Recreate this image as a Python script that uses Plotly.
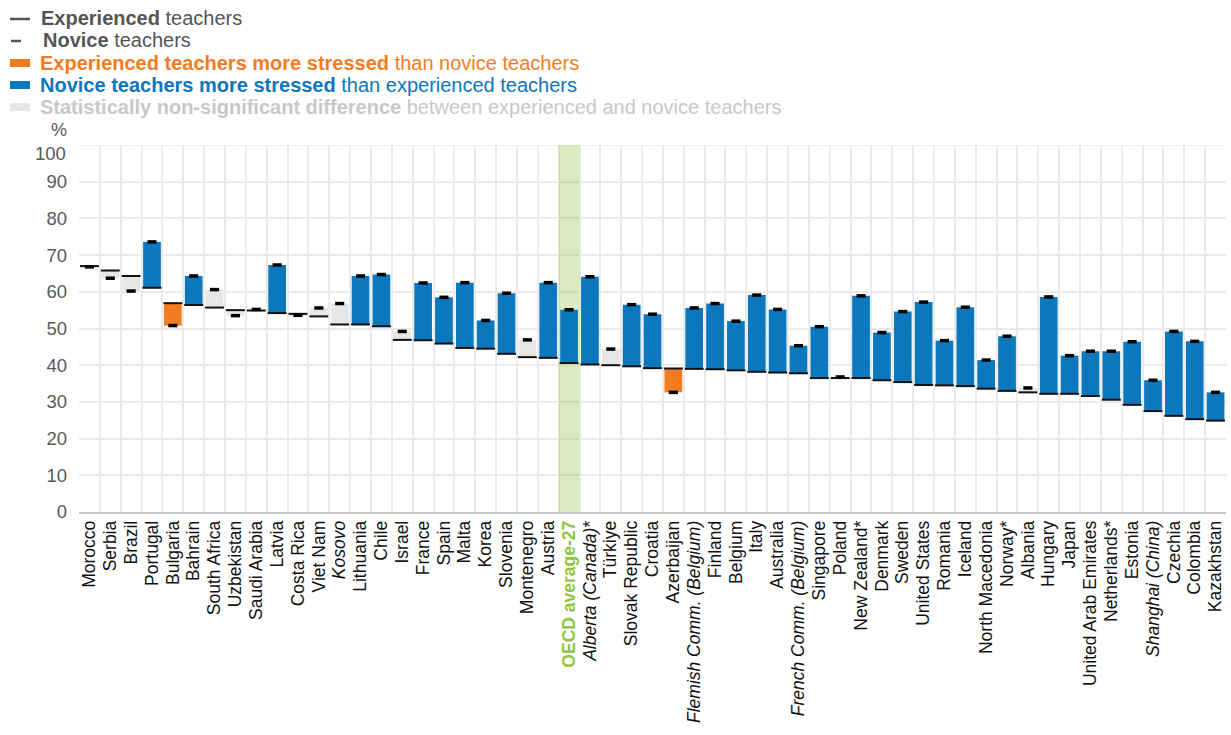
import plotly.graph_objects as go

categories = ["Morocco", "Serbia", "Brazil", "Portugal", "Bulgaria", "Bahrain", "South Africa",
              "Uzbekistan", "Saudi Arabia", "Latvia", "Costa Rica", "Viet Nam", "Kosovo",
              "Lithuania", "Chile", "Israel", "France", "Spain", "Malta", "Korea", "Slovenia",
              "Montenegro", "Austria", "OECD average-27", "Alberta (Canada)*", "Türkiye",
              "Slovak Republic", "Croatia", "Azerbaijan", "Flemish Comm. (Belgium)", "Finland",
              "Belgium", "Italy", "Australia", "French Comm. (Belgium)", "Singapore", "Poland",
              "New Zealand*", "Denmark", "Sweden", "United States", "Romania", "Iceland",
              "North Macedonia", "Norway*", "Albania", "Hungary", "Japan", "United Arab Emirates",
              "Netherlands*", "Estonia", "Shanghai (China)", "Czechia", "Colombia", "Kazakhstan"]

tick_labels = ["Morocco", "Serbia", "Brazil", "Portugal", "Bulgaria", "Bahrain", "South Africa",
               "Uzbekistan", "Saudi Arabia", "Latvia", "Costa Rica", "Viet Nam", "<i>Kosovo</i>",
               "Lithuania", "Chile", "Israel", "France", "Spain", "Malta", "Korea", "Slovenia",
               "Montenegro", "Austria",
               "<span style='color:#8DC63F'><b>OECD average-27</b></span>",
               "<i>Alberta (Canada)</i>*", "Türkiye",
               "Slovak Republic", "Croatia", "Azerbaijan", "<i>Flemish Comm. (Belgium)</i>", "Finland",
               "Belgium", "Italy", "Australia", "<i>French Comm. (Belgium)</i>", "Singapore", "Poland",
               "New Zealand*", "Denmark", "Sweden", "United States", "Romania", "Iceland",
               "North Macedonia", "Norway*", "Albania", "Hungary", "Japan", "United Arab Emirates",
               "Netherlands*", "Estonia", "<i>Shanghai (China)</i>", "Czechia", "Colombia", "Kazakhstan"]

y_ticks = [0, 10, 20, 30, 40, 50, 60, 70, 80, 90]
y_top = 100

experienced = [67.0, 65.8, 64.3, 61.1, 56.9, 56.4, 55.7, 55.0, 54.9, 54.2, 54.0, 53.3, 51.1,
               51.1, 50.6, 46.9, 46.8, 45.9, 44.7, 44.5, 43.1, 42.2, 42.0, 40.6, 40.2, 40.0,
               39.7, 39.2, 39.1, 39.0, 38.9, 38.6, 38.2, 38.0, 37.8, 36.5, 36.5, 36.5, 35.9,
               35.4, 34.6, 34.5, 34.3, 33.6, 33.0, 32.6, 32.2, 32.2, 31.6, 30.6, 29.2, 27.5,
               26.2, 25.3, 24.9]

novice = [66.8, 63.7, 60.2, 73.6, 50.8, 64.3, 60.6, 53.5, 55.2, 67.3, 53.6, 55.6, 56.8,
          64.3, 64.7, 49.2, 62.4, 58.5, 62.5, 52.2, 59.6, 46.9, 62.5, 55.1, 64.1, 44.4,
          56.5, 53.9, 32.6, 55.6, 56.8, 52.0, 59.1, 55.2, 45.3, 50.5, 36.8, 58.9, 48.9,
          54.6, 57.2, 46.7, 55.8, 41.4, 47.9, 33.8, 58.6, 42.6, 43.8, 43.8, 46.4, 35.9,
          49.2, 46.5, 32.6]

# "exp" = experienced more stressed, "nov" = novice more stressed, "ns" = non-significant
status = ["ns", "ns", "ns", "nov", "exp", "nov", "ns", "ns", "ns", "nov", "ns", "ns", "ns",
          "nov", "nov", "ns", "nov", "nov", "nov", "nov", "nov", "ns", "nov", "nov", "nov", "ns",
          "nov", "nov", "exp", "nov", "nov", "nov", "nov", "nov", "nov", "nov", "ns", "nov", "nov",
          "nov", "nov", "nov", "nov", "nov", "nov", "ns", "nov", "nov", "nov", "nov", "nov", "nov",
          "nov", "nov", "nov"]

ORANGE = "#F47C20"
BLUE = "#0B77BD"
GREY = "#E6E6E6"
GREEN = "#8DC63F"
GRID = "#EBEBEB"
color_map = {"exp": ORANGE, "nov": BLUE, "ns": GREY}

base = [min(e, n) for e, n in zip(experienced, novice)]
height = [abs(e - n) for e, n in zip(experienced, novice)]
colors = [color_map[s] for s in status]

fig = go.Figure()
fig.add_trace(go.Bar(x=categories, y=height, base=base, marker=dict(color=colors, line=dict(width=0)),
                     showlegend=False, hoverinfo="skip"))
fig.add_trace(go.Scatter(x=categories, y=experienced, mode="markers",
                         marker=dict(symbol="line-ew", size=13.5, line=dict(color="#111111", width=2)),
                         showlegend=False))
fig.add_trace(go.Scatter(x=categories, y=novice, mode="markers",
                         marker=dict(symbol="line-ew", size=6.5, line=dict(color="#000000", width=3.5)),
                         showlegend=False))

L, R, T, B = 79, 5, 145, 223
W, H = 1231, 735
pw, ph = W - L - R, H - T - B


def px(x):
    return (x - L) / pw


def py(y):
    return (H - B - y) / ph


shapes = []
annotations = []
# top gridline at 100
shapes.append(dict(type="line", xref="paper", yref="y", x0=0, x1=1, y0=y_top, y1=y_top,
                   line=dict(color=GRID, width=1.5), layer="below"))
oecd_idx = categories.index("OECD average-27")
shapes.append(dict(type="rect", xref="x", yref="y", x0=oecd_idx - 0.5, x1=oecd_idx + 0.5, y0=0, y1=y_top,
                   fillcolor=GREEN, opacity=0.33, line=dict(width=0), layer="between"))

legend_font = "Liberation Sans, Arial, sans-serif"
# legend swatches
shapes.append(dict(type="line", xref="paper", yref="paper", x0=px(10), x1=px(30), y0=py(19), y1=py(19),
                   line=dict(color="#555555", width=2.5)))
shapes.append(dict(type="line", xref="paper", yref="paper", x0=px(11), x1=px(21), y0=py(41), y1=py(41),
                   line=dict(color="#555555", width=2.5)))
for yc, col in [(63, ORANGE), (85, BLUE), (107, GREY)]:
    shapes.append(dict(type="rect", xref="paper", yref="paper", x0=px(10), x1=px(30),
                       y0=py(yc - 4), y1=py(yc + 4), fillcolor=col, line=dict(width=0)))

legend_items = [
    (18.5, 39, "<b>Experienced</b> teachers", "#555555"),
    (40.5, 41, "<b>Novice</b> teachers", "#555555"),
    (63, 38, "<b>Experienced teachers more stressed</b> than novice teachers", ORANGE),
    (85, 38, "<b>Novice teachers more stressed</b> than experienced teachers", BLUE),
    (107, 38, "<b>Statistically non-significant difference</b> between experienced and novice teachers", "#C8C8C8"),
]
for yc, xl, txt, col in legend_items:
    annotations.append(dict(xref="paper", yref="paper", x=px(xl), y=py(yc), xanchor="left", yanchor="middle",
                            text=txt, showarrow=False, font=dict(family=legend_font, size=20, color=col)))

annotations.append(dict(xref="paper", yref="paper", x=px(59), y=py(130), xanchor="center", yanchor="middle",
                        text="%", showarrow=False, font=dict(family=legend_font, size=18, color="#595959")))
# "100" label sits just below the top gridline, as in the original
annotations.append(dict(xref="paper", yref="paper", x=px(68), y=py(153), xanchor="right", yanchor="middle",
                        text=str(y_top), showarrow=False,
                        font=dict(family=legend_font, size=18.5, color="#595959")))

fig.update_layout(
    width=W, height=H,
    margin=dict(l=L, r=R, t=T, b=B, pad=0, autoexpand=False),
    paper_bgcolor="white", plot_bgcolor="white",
    bargap=0.15,
    shapes=shapes, annotations=annotations,
    showlegend=False,
    font=dict(family=legend_font),
)
fig.update_xaxes(type="category", range=[-0.5, len(categories) - 0.5], tickmode="array",
                 tickvals=categories, ticktext=tick_labels, tickangle=-90, tickson="boundaries",
                 ticks="", showgrid=True, gridcolor=GRID, gridwidth=1.5, automargin=False,
                 showline=True, linecolor="#C8C8C8", linewidth=1.5,
                 tickfont=dict(family=legend_font, size=17.5, color="#111111"))
fig.update_yaxes(range=[0, y_top], tickmode="array", tickvals=y_ticks, showgrid=True, gridcolor=GRID,
                 gridwidth=1.5, zeroline=False, ticks="", ticklabelstandoff=11, automargin=False,
                 tickfont=dict(family=legend_font, size=18.5, color="#595959"))

fig.write_html("out.html", config={"displayModeBar": False},
               post_script="document.body.style.margin='0';document.body.style.overflow='hidden';")
